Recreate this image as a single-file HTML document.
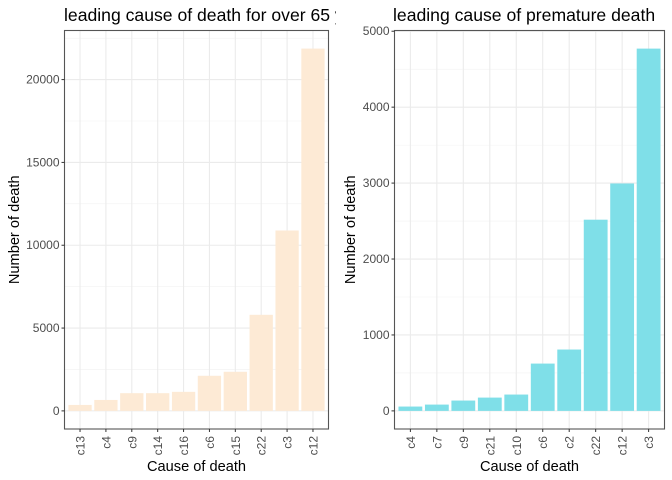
<!DOCTYPE html>
<html><head><meta charset="utf-8"><style>
body{margin:0;background:#fff;}
svg{display:block;font-family:"Liberation Sans",Arial,sans-serif;}
</style></head><body>
<svg id="chart" width="672" height="480" xmlns="http://www.w3.org/2000/svg"></svg>
<script>
const leftCats = ["c13","c4","c9","c14","c16","c6","c15","c22","c3","c12"];
const leftVals = [360,660,1070,1070,1150,2120,2360,5800,10890,21870];
const leftTicks = [0,5000,10000,15000,20000];
const rightCats = ["c4","c7","c9","c21","c10","c6","c2","c22","c12","c3"];
const rightVals = [57,83,136,175,215,623,808,2518,2995,4771];
const rightTicks = [0,1000,2000,3000,4000,5000];

const svg = document.getElementById('chart');
const NS = "http://www.w3.org/2000/svg";
function mk(tag, attrs, parent){
  const e = document.createElementNS(NS, tag);
  for (const k in attrs) e.setAttribute(k, attrs[k]);
  (parent||svg).appendChild(e);
  return e;
}
function panel(cfg){
  const g = mk('g', {});
  
  
  const {x0,x1,y0,y1,cats,vals,ticks,fill} = cfg;
  const maxV = Math.max(...vals);
  const dmin = -0.05*maxV, dmax = maxV*1.05;
  const ys = v => y1 - (v - dmin)/(dmax - dmin)*(y1 - y0);
  const n = cats.length;
  const bw = (x1 - x0)/(n + 0.2);
  const xs = i => x0 + bw*(0.6 + i);
  for (let i=0;i<ticks.length-1;i++){
    const m = (ticks[i]+ticks[i+1])/2;
    const y = ys(m);
    if (y>y0 && y<y1) mk('line',{x1:x0,x2:x1,y1:y,y2:y,stroke:'#f2f2f2','stroke-width':0.6},g);
  }
  const step = ticks[1]-ticks[0];
  const extra = ticks[ticks.length-1]+step/2;
  if (ys(extra)>y0) mk('line',{x1:x0,x2:x1,y1:ys(extra),y2:ys(extra),stroke:'#f2f2f2','stroke-width':0.6},g);
  ticks.forEach(t=>{ const y=ys(t); if(y>=y0-0.5) mk('line',{x1:x0,x2:x1,y1:y,y2:y,stroke:'#ebebeb','stroke-width':1.1},g);});
  cats.forEach((c,i)=>mk('line',{x1:xs(i),x2:xs(i),y1:y0,y2:y1,stroke:'#ebebeb','stroke-width':1.1},g));
  vals.forEach((v,i)=>{
    const w = bw*0.9;
    const r = mk('rect',{x:xs(i)-w/2,y:ys(v),width:w,height:ys(0)-ys(v),fill:fill},g);
    
    
  });
  mk('rect',{x:x0,y:y0,width:x1-x0,height:y1-y0,fill:'none',stroke:'#555','stroke-width':1.1},g);
  ticks.forEach(t=>{
    const y=ys(t);
    mk('line',{x1:x0-3,x2:x0,y1:y,y2:y,stroke:'#333','stroke-width':1},g);
    const tx = mk('text',{x:x0-5,y:y+4,'text-anchor':'end','font-size':12,fill:'#4d4d4d'},g);
    tx.textContent = t;
    
    
  });
  cats.forEach((c,i)=>{
    const x=xs(i);
    mk('line',{x1:x,x2:x,y1:y1,y2:y1+3,stroke:'#333','stroke-width':1},g);
    const tx = mk('text',{x:0,y:0,'text-anchor':'end','font-size':12,fill:'#4d4d4d',transform:`translate(${x+4.5},${y1+7}) rotate(-90)`},g);
    tx.textContent = c;
    
    
  });
  const xt = mk('text',{x:(x0+x1)/2,y:471,'text-anchor':'middle','font-size':14.6,fill:'#000'},g);
  xt.textContent = 'Cause of death';
  
  
  const yt = mk('text',{x:0,y:0,'text-anchor':'middle','font-size':14.6,fill:'#000',transform:`translate(${cfg.ytx},${(y0+y1)/2}) rotate(-90)`},g);
  yt.textContent = 'Number of death';
  
  
  const tt = mk('text',{x:cfg.titleX,y:21,'font-size':17.6,fill:'#000'},g);
  tt.textContent = cfg.title;
  
  
}
panel({name:'panel-over-65',x0:64.5,x1:328.5,y0:30.5,y1:429,cats:leftCats,vals:leftVals,ticks:leftTicks,fill:'#FDEAD5',ytx:19,titleX:64,title:'leading cause of death for over 65 y'});
const cover = mk('rect',{x:336,y:0,width:50,height:29,fill:'#fff'});


panel({name:'panel-premature',x0:394.5,x1:664.5,y0:30.5,y1:429,cats:rightCats,vals:rightVals,ticks:rightTicks,fill:'#7FDFE8',ytx:355,titleX:393,title:'leading cause of premature death'});
</script>
</body></html>
